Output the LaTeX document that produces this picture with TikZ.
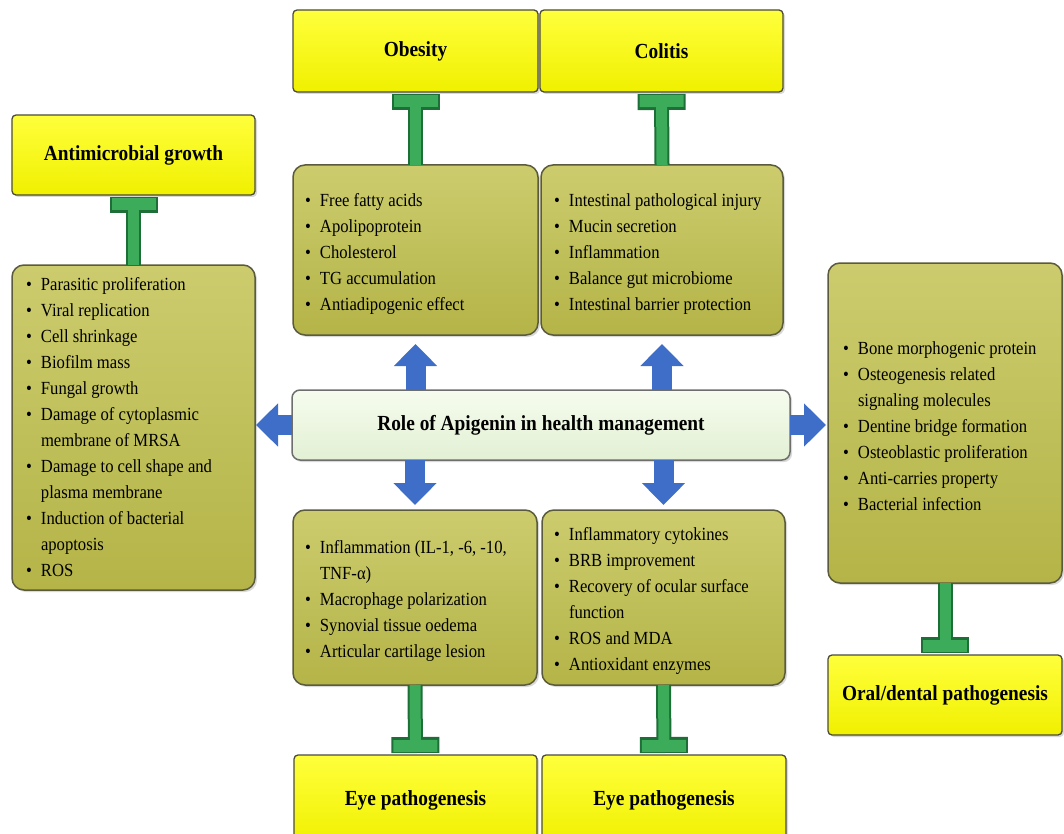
\documentclass[tikz,border=0pt]{standalone}
\usepackage{fontspec}
\setmainfont[FakeStretch=0.9]{Liberation Serif}
\usetikzlibrary{arrows.meta,shadows,calc}
\definecolor{ytop}{RGB}{255,255,60}
\definecolor{ybot}{RGB}{240,240,0}
\definecolor{yline}{RGB}{75,75,60}
\definecolor{otop}{RGB}{204,204,110}
\definecolor{obot}{RGB}{180,180,72}
\definecolor{oline}{RGB}{90,90,60}
\definecolor{ctop}{RGB}{246,252,238}
\definecolor{cbot}{RGB}{226,240,212}
\definecolor{cline}{RGB}{110,110,110}
\definecolor{bluec}{RGB}{62,110,200}
\definecolor{bluedk}{RGB}{40,70,140}
\definecolor{greenc}{RGB}{60,172,90}
\definecolor{greendk}{RGB}{30,110,55}
\newcommand{\bi}{\makebox[15pt][l]{\textbullet}}
\newcommand{\ci}{\hspace*{15pt}}
\begin{document}
\begin{tikzpicture}[x=1pt,y=-1pt,
  ybox/.style={draw=yline, line width=1.3pt, rounded corners=4pt, top color=ytop, bottom color=ybot,
    drop shadow={opacity=0.3, shadow xshift=2pt, shadow yshift=-2pt},
    inner sep=0pt, outer sep=0pt, anchor=north west, font=\fontsize{21.5}{25}\selectfont\bfseries},
  obox/.style={draw=oline, line width=1.5pt, rounded corners=12pt, top color=otop, bottom color=obot,
    drop shadow={opacity=0.3, shadow xshift=2pt, shadow yshift=-2pt},
    inner sep=0pt, outer sep=0pt, anchor=north west},
  cbox/.style={draw=cline, line width=1.5pt, rounded corners=8pt, top color=ctop, bottom color=cbot,
    drop shadow={opacity=0.3, shadow xshift=2pt, shadow yshift=-2pt},
    inner sep=0pt, outer sep=0pt, anchor=north west, font=\fontsize{21.5}{25}\selectfont\bfseries},
  ltext/.style={align=left, anchor=base west, inner sep=0pt, outer sep=0pt, font=\fontsize{18.5}{26}\selectfont},
  barrow/.style={line width=20pt, draw=bluec, -{Triangle[length=22pt,width=42pt]}},
  tbar/.style={line width=11pt, draw=greenc, shorten >=3pt, -{Rectangle[length=12pt,width=44pt]},
    preaction={draw=greendk, line width=15pt, shorten >=2pt, -{Rectangle[length=16pt,width=48pt]}}}
]
\useasboundingbox (0,0) rectangle (1064,834);

% title boxes
\node[ybox, minimum width=245pt, minimum height=82pt] (ob) at (293,10) {Obesity};
\node[ybox, minimum width=243pt, minimum height=82pt] (co) at (540,10) {Colitis};
\node[ybox, minimum width=243pt, minimum height=80pt] (am) at (12,115) {Antimicrobial growth};
\node[ybox, minimum width=243pt, minimum height=90pt] (e1) at (294,755) {Eye pathogenesis};
\node[ybox, minimum width=244pt, minimum height=90pt] (e2) at (542,755) {Eye pathogenesis};
\node[ybox, minimum width=234pt, minimum height=80pt] (or) at (828,655) {Oral/dental pathogenesis};

% list boxes
\node[obox, minimum width=245pt, minimum height=170pt] (obl) at (293,165) {};
\node[obox, minimum width=242pt, minimum height=170pt] (col) at (541,165) {};
\node[obox, minimum width=243pt, minimum height=325pt] (lbox) at (12,265) {};
\node[obox, minimum width=244pt, minimum height=175pt] (bll) at (293,510) {};
\node[obox, minimum width=243pt, minimum height=175pt] (brl) at (542,510) {};
\node[obox, minimum width=234pt, minimum height=320pt] (rbox) at (828,263) {};

% centre
\node[cbox, minimum width=498pt, minimum height=70pt] (ctr) at (292,390) {Role of Apigenin in health management};

% list texts (anchored at the baseline of the last line)
\node[ltext] (oblt) at (305,310) {\bi Free fatty acids\\ \bi Apolipoprotein\\ \bi Cholesterol\\ \bi TG accumulation\\ \bi Antiadipogenic effect};
\node[ltext] (colt) at (554,310) {\bi Intestinal pathological injury\\ \bi Mucin secretion\\ \bi Inflammation\\ \bi Balance gut microbiome\\ \bi Intestinal barrier protection};
\node[ltext] (lboxt) at (26,576) {\bi Parasitic proliferation\\ \bi Viral replication\\ \bi Cell shrinkage\\ \bi Biofilm mass\\ \bi Fungal growth\\ \bi Damage of cytoplasmic\\ \ci membrane of MRSA\\ \bi Damage to cell shape and\\ \ci plasma membrane\\ \bi Induction of bacterial\\ \ci apoptosis\\ \bi ROS};
\node[ltext] (bllt) at (305,657) {\bi Inflammation (IL-1, -6, -10,\\ \ci TNF-α)\\ \bi Macrophage polarization\\ \bi Synovial tissue oedema\\ \bi Articular cartilage lesion};
\node[ltext] (brlt) at (554,670) {\bi Inflammatory cytokines\\ \bi BRB improvement\\ \bi Recovery of ocular surface\\ \ci function\\ \bi ROS and MDA\\ \bi Antioxidant enzymes};
\node[ltext] (rboxt) at (843,510) {\bi Bone morphogenic protein\\ \bi Osteogenesis related\\ \ci signaling molecules\\ \bi Dentine bridge formation\\ \bi Osteoblastic proliferation\\ \bi Anti-carries property\\ \bi Bacterial infection};

% blue arrows
\draw[barrow, shorten >=9pt] (ctr.north -| obl.south) -- (obl.south);
\draw[barrow, shorten >=9pt] (ctr.north -| col.south) -- (col.south);
\draw[barrow, shorten >=5pt] (ctr.south -| bll.north) -- (bll.north);
\draw[barrow, shorten >=5pt] (ctr.south -| brl.north) -- (brl.north);
\draw[barrow, shorten >=1pt] (ctr.west) -- (lbox.east |- ctr.west);
\draw[barrow, shorten >=2pt] (ctr.east) -- (rbox.west |- ctr.east);

% green inhibition bars
\draw[tbar] (obl.north) -- (ob.south);
\draw[tbar] (col.north) -- (co.south);
\draw[tbar] (lbox.north) -- (am.south);
\draw[tbar] (bll.south) -- (e1.north);
\draw[tbar] (brl.south) -- (e2.north);
\draw[tbar] (rbox.south) -- (or.north);
\end{tikzpicture}
\end{document}
